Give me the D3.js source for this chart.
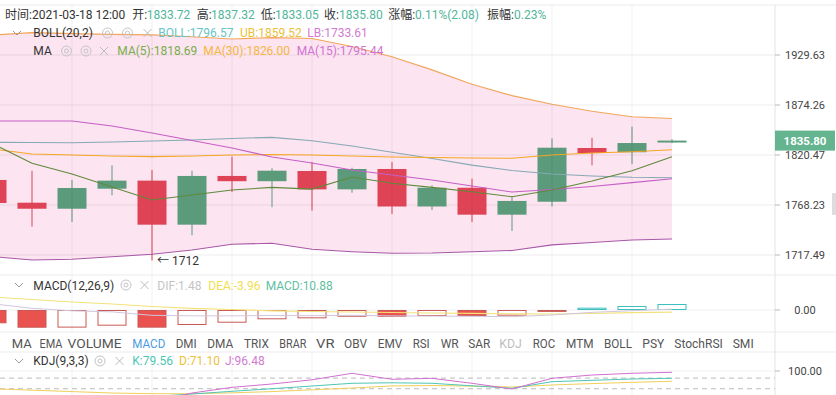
<!DOCTYPE html>
<html><head><meta charset="utf-8">
<script src="https://cdn.jsdelivr.net/npm/d3@7"></script>
<style>body{margin:0;background:#fff;} svg{display:block;font-family:Roboto,"Noto Sans CJK SC",sans-serif;}</style>
</head><body><svg id="c" width="836" height="395"></svg>
<script>
// ---------- data ----------
const open  = [1794.2,1770.6,1764.4,1785.1,1793.5,1748.1,1798.4,1792.9,1803.6,1784.4,1805.7,1766.7,1786.1,1758.3,1771.6,1827.9,1823.4,1833.72];
const high  = [1798.4,1803.9,1794.2,1809.5,1804.6,1803.9,1818.7,1806.4,1813.1,1807.0,1813.1,1788.6,1795.6,1776.9,1838.2,1838.9,1850.8,1837.32];
const low   = [1763.1,1746.1,1750.8,1778.2,1712.0,1737.3,1781.6,1765.9,1762.4,1780.9,1759.0,1763.1,1750.8,1741.7,1766.7,1809.5,1810.8,1833.05];
const close = [1770.3,1764.4,1785.8,1793.5,1748.1,1798.4,1792.9,1803.9,1784.4,1805.7,1766.7,1786.1,1758.3,1772.4,1828.2,1822.6,1833.2,1835.80];
const ma5   = [1832.9,1811.7,1800.5,1786.8,1773.4,1778.5,1783.7,1786.5,1784.7,1797.3,1790.8,1786.5,1781.9,1776.8,1783.7,1793.1,1803.9,1818.69];
const ma15  = [1856.9,1856.9,1856.9,1851.5,1844.0,1835.9,1828.0,1818.4,1812.0,1804.6,1799.4,1794.2,1787.9,1781.6,1784.2,1787.4,1791.4,1795.44];
const ma30  = [1826.9,1821.6,1820.5,1819.4,1818.7,1819.4,1820.5,1821.0,1820.5,1819.4,1818.4,1817.8,1817.3,1817.0,1820.5,1822.6,1824.0,1826.00];
const bollMid = [1834.0,1833.7,1833.5,1834.3,1835.3,1836.4,1838.0,1839.3,1835.7,1830.0,1823.4,1816.8,1809.8,1804.1,1800.4,1798.4,1797.0,1796.57];
const bollUp  = [1952.1,1954.9,1953.8,1952.9,1952.4,1950.3,1947.7,1949.3,1948.2,1939.2,1927.6,1913.0,1897.0,1884.5,1875.0,1867.5,1861.4,1859.52];
const bollLow = [1715.9,1712.5,1713.2,1715.7,1718.2,1722.5,1728.3,1729.3,1723.2,1720.8,1719.2,1719.5,1720.8,1722.0,1727.6,1730.1,1732.6,1733.61];
const macdHist = [-24.2,-32.2,-32.0,-28.5,-32.1,-27.3,-23.1,-16.9,-15.1,-12.2,-12.3,-10.9,-11.0,-10.3,-3.5,4.2,7.3,10.88];
const dif = [11.5,3.0,-1.5,-3.4,-9.7,-10.6,-10.7,-10.0,-10.3,-9.7,-10.7,-11.0,-11.5,-12.1,-9.1,-4.3,-1.3,1.48];
const dea = [23.6,19.1,14.5,10.9,6.4,3.1,0.9,-1.5,-2.7,-3.6,-4.5,-5.5,-6.0,-6.9,-7.3,-6.4,-4.9,-3.96];
const kdjK = [30,25,20,22,28,35.2,42.8,50.1,57.7,65.4,66.8,65.4,58.3,51.3,69.9,73.8,77.5,79.56];
const kdjD = [50,46,42,38,36,36,38.5,42,47,52,58,59,57.5,55,60.6,64.5,68,71.10];
const kdjJ = [-10,-17,-24,-10,12,38,54,63.4,75.2,93.5,76.6,79.4,65.4,49.3,79.4,88.7,93.5,96.48];
const priceTicks = [1717.49,1768.23,1820.47,1874.26,1929.63];
const macdTicks = [0];
const kdjTicks = [100];
const kdjDash = [80,50];
const tabs = ["MA","EMA","VOLUME","MACD","DMI","DMA","TRIX","BRAR","VR","OBV","EMV","RSI","WR","SAR","KDJ","ROC","MTM","BOLL","PSY","StochRSI","SMI"];
const tabX = [11.7,39.5,67.5,132.3,175.7,207.3,244,279.3,316,344,377.7,412.7,440.7,468.3,499.3,532.7,566,604,642.3,674.3,732.7];
const tabW = [20,23,54,33,21,26,25,27,18.5,23,24.5,17,18,22,22.5,22.5,27.5,28,22,48.5,21];
const lastPrice = 1835.80;
const lowMark = 1712;

// ---------- setup ----------
const svg = d3.select("#c");
const idx = d3.range(open.length);
const plotR = 775;
const x = d3.scaleLinear().domain([0, open.length-1]).range([-8, 672]);
const bw = 29;
const yMain = d3.scaleLog().domain([1717.49, 1929.63]).range([255, 55]);
const yMacd = d3.scaleLinear().domain([-40, 20]).range([332, 299]);
const yKdj = d3.scaleLinear().domain([50, 100]).range([388.75, 371]);
const RED = "#df4356", GREEN = "#5b9a7b";
const gridC = "#ebebeb";

svg.append("rect").attr("width",836).attr("height",395).attr("fill","#fff");
const defs = svg.append("defs");
defs.append("clipPath").attr("id","cm").append("rect").attr("x",0).attr("y",5).attr("width",plotR).attr("height",270);
defs.append("clipPath").attr("id","cd").append("rect").attr("x",0).attr("y",276).attr("width",plotR).attr("height",56);
defs.append("clipPath").attr("id","ck").append("rect").attr("x",0).attr("y",353).attr("width",plotR).attr("height",42);

// ---------- main pane ----------
const gm = svg.append("g").attr("clip-path","url(#cm)");
gm.append("path").datum(idx)
  .attr("d", d3.area().x(i=>x(i)).y0(i=>yMain(bollLow[i])).y1(i=>yMain(bollUp[i])))
  .attr("fill","#fce4f0");
const vgrid = [2,4,6,8,10,12,14,16];
gm.selectAll(".hg").data(priceTicks).join("line")
  .attr("x1",0).attr("x2",plotR).attr("y1",d=>yMain(d)).attr("y2",d=>yMain(d))
  .attr("stroke","rgba(0,0,0,0.07)");
svg.selectAll(".vg").data(vgrid).join("line")
  .attr("x1",d=>x(d)).attr("x2",d=>x(d)).attr("y1",5).attr("y2",332)
  .attr("stroke","rgba(0,0,0,0.06)");
svg.selectAll(".vg2").data(vgrid).join("line")
  .attr("x1",d=>x(d)).attr("x2",d=>x(d)).attr("y1",352).attr("y2",395)
  .attr("stroke","rgba(0,0,0,0.06)");

// candles
const cg = gm.append("g");
cg.selectAll(".wick").data(idx).join("line")
  .attr("x1",i=>x(i)).attr("x2",i=>x(i))
  .attr("y1",i=>yMain(high[i])).attr("y2",i=>yMain(low[i]))
  .attr("stroke",i=>close[i]>=open[i]?GREEN:RED).attr("stroke-width",1);
cg.selectAll(".body").data(idx).join("rect")
  .attr("x",i=>x(i)-bw/2).attr("width",bw)
  .attr("y",i=>yMain(Math.max(open[i],close[i])))
  .attr("height",i=>Math.max(1.5, Math.abs(yMain(open[i])-yMain(close[i]))))
  .attr("fill",i=>close[i]>=open[i]?GREEN:RED);

const line = arr => d3.line().x(i=>x(i)).y(i=>yMain(arr[i]))(idx);
const lines = [[bollUp,"#f2a65a"],[bollLow,"#a858a8"],[bollMid,"#86a9b4"],[ma30,"#f5a623"],[ma15,"#c65fc6"],[ma5,"#5f8a3c"]];
lines.forEach(([a,c])=>gm.append("path").attr("d",line(a)).attr("fill","none").attr("stroke",c).attr("stroke-width",1.1));

// low annotation
const li = low.indexOf(lowMark);
svg.append("text").attr("x",x(li)+5).attr("y",yMain(lowMark)).attr("dy","0.35em")
  .attr("font-size",12).attr("fill","#333").text("← " + lowMark);

// ---------- separators / axis ----------
[5,275,332,352].forEach(yy=>svg.append("line").attr("x1",0).attr("x2",836).attr("y1",yy).attr("y2",yy).attr("stroke",gridC));
svg.append("line").attr("x1",plotR).attr("x2",plotR).attr("y1",5).attr("y2",395).attr("stroke","#e3e3e3");
svg.selectAll(".pt").data(priceTicks).join("text")
  .attr("x",805).attr("y",d=>yMain(d)).attr("dy","0.35em").attr("text-anchor","middle")
  .attr("font-size",11).attr("fill","#444").text(d=>d.toFixed(2));
svg.selectAll(".ptk").data(priceTicks).join("line")
  .attr("x1",plotR).attr("x2",plotR+5).attr("y1",d=>yMain(d)).attr("y2",d=>yMain(d)).attr("stroke","#bbb");
const ly = yMain(lastPrice);
svg.append("rect").attr("x",plotR).attr("y",ly-10).attr("width",60).attr("height",20).attr("fill","#63b48f");
svg.append("text").attr("x",805).attr("y",ly).attr("dy","0.35em").attr("text-anchor","middle")
  .attr("font-size",11.5).attr("font-weight","bold").attr("fill","#fff").text(lastPrice.toFixed(2));
svg.append("rect").attr("x",832).attr("y",193).attr("width",4).attr("height",22).attr("rx",1).attr("fill","#ddd");

// ---------- header texts ----------
const TEAL = "#52b59a";
function t(xx, yy, s, col, size){ return svg.append("text").attr("x",xx).attr("y",yy).attr("font-size",size||12).attr("fill",col||"#333").text(s); }
t(5,19,"时间:2021-03-18 12:00");
t(132.3,19,"开:"); t(146.7,19,open[17].toFixed(2),TEAL);
t(196.7,19,"高:"); t(211,19,high[17].toFixed(2),TEAL);
t(260.7,19,"低:"); t(275,19,low[17].toFixed(2),TEAL);
t(324,19,"收:"); t(339,19,close[17].toFixed(2),TEAL);
t(388.3,19,"涨幅:"); t(415,19,"0.11%(2.08)",TEAL);
t(487,19,"振幅:"); t(514,19,"0.23%",TEAL);

function chevron(cx, cy){ svg.append("path").attr("d",`M${cx-4},${cy-2}L${cx},${cy+2}L${cx+4},${cy-2}`).attr("fill","none").attr("stroke","#999").attr("stroke-width",1); }
function icon(cx, cy){ svg.append("circle").attr("cx",cx).attr("cy",cy).attr("r",5).attr("fill","none").attr("stroke","#c4c4c4");
  svg.append("circle").attr("cx",cx).attr("cy",cy).attr("r",2).attr("fill","none").attr("stroke","#c4c4c4"); }
function cross(cx, cy){ svg.append("path").attr("d",`M${cx-4},${cy-4}L${cx+4},${cy+4}M${cx+4},${cy-4}L${cx-4},${cy+4}`).attr("stroke","#bbb").attr("stroke-width",1); }

chevron(17,33); t(33.3,37,"BOLL(20,2)"); icon(107.5,33); icon(127.5,33); cross(147.5,33);
t(158.3,37,"BOLL:"+bollMid[17].toFixed(2),"#68c4c4"); t(240,37,"UB:"+bollUp[17].toFixed(2),"#ecc03a"); t(307.3,37,"LB:"+bollLow[17].toFixed(2),"#d27ad2");
t(33.3,55,"MA"); icon(66.5,51); icon(86,51); cross(104,51);
t(117.3,55,"MA(5):"+ma5[17].toFixed(2),"#78ad4e"); t(203.3,55,"MA(30):"+ma30[17].toFixed(2),"#f5b642"); t(296.7,55,"MA(15):"+ma15[17].toFixed(2),"#d273d2");

// ---------- MACD pane ----------
svg.append("line").attr("x1",0).attr("x2",plotR).attr("y1",yMacd(0)).attr("y2",yMacd(0)).attr("stroke","rgba(0,0,0,0.06)");
const gd = svg.append("g").attr("clip-path","url(#cd)");
gd.selectAll(".mb").data(idx).join("rect")
  .attr("x",i=>x(i)-bw/2+0.5).attr("width",bw-1)
  .attr("y",i=>Math.min(yMacd(0),yMacd(macdHist[i]))+0.5)
  .attr("height",i=>Math.max(0.5,Math.abs(yMacd(macdHist[i])-yMacd(0))-1))
  .attr("fill",i=>{const v=macdHist[i], p=i>0?macdHist[i-1]:0; const filled = v<p || i===0; return filled ? (v<0?"#e9524f":"#1fa07f") : "none";})
  .attr("stroke",i=>macdHist[i]<0?"#c85a55":"#3bbfbf").attr("stroke-width",1);
gd.append("path").attr("d",d3.line().x(i=>x(i)).y(i=>yMacd(dea[i]))(idx)).attr("fill","none").attr("stroke","#f3e27a").attr("stroke-width",1.2);
gd.append("path").attr("d",d3.line().x(i=>x(i)).y(i=>yMacd(dif[i]))(idx)).attr("fill","none").attr("stroke","#d2c6dc").attr("stroke-width",1);
svg.selectAll(".mt").data(macdTicks).join("text").attr("x",805).attr("y",d=>yMacd(d)).attr("dy","0.35em").attr("text-anchor","middle").attr("font-size",11).attr("fill","#444").text(d=>d.toFixed(2));
svg.selectAll(".mtk").data(macdTicks).join("line").attr("x1",plotR).attr("x2",plotR+5).attr("y1",d=>yMacd(d)).attr("y2",d=>yMacd(d)).attr("stroke","#bbb");
chevron(19,285); t(33.3,289.5,"MACD(12,26,9)"); icon(126,285); cross(144.5,285);
t(157.3,289.5,"DIF:"+dif[17].toFixed(2),"#c4c4c4"); t(208.3,289.5,"DEA:"+dea[17].toFixed(2),"#f0e050"); t(265.7,289.5,"MACD:"+macdHist[17].toFixed(2),"#5fbf9f");

// ---------- tab bar ----------
svg.selectAll(".tab").data(tabs).join("text")
  .attr("x",(d,i)=>tabX[i]).attr("y",347.5).attr("font-size",13)
  .attr("textLength",(d,i)=>tabW[i]).attr("lengthAdjust","spacingAndGlyphs")
  .attr("fill",d=>d==="MACD"?"#4a9be0":(d==="KDJ"?"#bdbdbd":"#555")).text(d=>d);

// ---------- KDJ pane ----------
svg.append("line").attr("x1",0).attr("x2",plotR).attr("y1",yKdj(100)).attr("y2",yKdj(100)).attr("stroke","rgba(0,0,0,0.06)");
const gk = svg.append("g").attr("clip-path","url(#ck)");
gk.selectAll(".kd").data(kdjDash).join("line").attr("x1",0).attr("x2",plotR).attr("y1",d=>yKdj(d)).attr("y2",d=>yKdj(d))
  .attr("stroke","#bbb").attr("stroke-dasharray","5,4");
[[kdjD,"#f0cf5a"],[kdjK,"#4fc6b4"],[kdjJ,"#d070d0"]].forEach(([a,c])=>gk.append("path")
  .attr("d",d3.line().x(i=>x(i)).y(i=>yKdj(a[i]))(idx)).attr("fill","none").attr("stroke",c).attr("stroke-width",1));
svg.selectAll(".kt").data(kdjTicks).join("text").attr("x",805).attr("y",d=>yKdj(d)).attr("dy","0.35em").attr("text-anchor","middle").attr("font-size",11).attr("fill","#444").text(d=>d.toFixed(2));
svg.selectAll(".ktk").data(kdjTicks).join("line").attr("x1",plotR).attr("x2",plotR+5).attr("y1",d=>yKdj(d)).attr("y2",d=>yKdj(d)).attr("stroke","#bbb");
chevron(19,361); t(33.3,365,"KDJ(9,3,3)"); icon(100,361); cross(119.5,361);
t(132.3,365,"K:"+kdjK[17].toFixed(2),"#4fc6b4"); t(179,365,"D:"+kdjD[17].toFixed(2),"#ecc03a"); t(225,365,"J:"+kdjJ[17].toFixed(2),"#d27ad2");
</script></body></html>
